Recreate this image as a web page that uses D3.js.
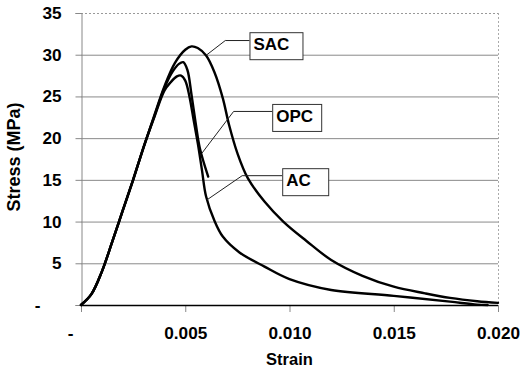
<!DOCTYPE html>
<html>
<head>
<meta charset="utf-8">
<script src="https://cdn.jsdelivr.net/npm/d3@7"></script>
<style>
  html, body { margin: 0; padding: 0; background: #fff; }
  svg { display: block; font-family: "Liberation Sans", Arial, sans-serif; font-weight: bold; }
</style>
</head>
<body>
<div id="chart"></div>
<script>
// stress-strain curves, strain (-) vs stress (MPa)
const sacStrain = [0, 0.0005, 0.001, 0.0015, 0.002, 0.0025, 0.003, 0.0035, 0.004, 0.0045, 0.005, 0.0053, 0.0056, 0.006, 0.0064, 0.0068, 0.0071, 0.0075, 0.008, 0.0088, 0.0097, 0.0108, 0.012, 0.0135, 0.015, 0.0165, 0.0177, 0.019, 0.020];
const sacStress = [0, 1.3, 4, 7.6, 11.3, 15, 18.9, 22.6, 26.2, 29.0, 30.6, 31.0, 30.8, 29.9, 27.9, 24.8, 21.6, 18.2, 15.2, 12.4, 10.0, 7.7, 5.4, 3.5, 2.2, 1.4, 0.85, 0.45, 0.25];

const opcStrain = [0, 0.0005, 0.001, 0.0015, 0.002, 0.0025, 0.003, 0.0035, 0.004, 0.0044, 0.0047, 0.0049, 0.0051, 0.0053, 0.0055, 0.0057, 0.0061];
const opcStress = [0, 1.3, 4, 7.6, 11.3, 15, 18.9, 22.5, 26.0, 28.0, 28.9, 29.1, 28.2, 25.2, 21.8, 18.8, 15.4];

const acStrain = [0, 0.0005, 0.001, 0.0015, 0.002, 0.0025, 0.003, 0.0035, 0.004, 0.0043, 0.0046, 0.0048, 0.005, 0.0052, 0.0054, 0.0056, 0.0058, 0.006, 0.0064, 0.0068, 0.0076, 0.0088, 0.010, 0.012, 0.015, 0.0177, 0.019, 0.0195];
const acStress = [0, 1.3, 4, 7.6, 11.3, 15, 18.9, 22.4, 25.7, 26.7, 27.4, 27.5, 26.9, 25.0, 22.2, 19.4, 16.2, 13.0, 10.1, 8.2, 6.3, 4.6, 3.1, 1.8, 1.1, 0.4, 0.05, 0];

const xTicks = [0, 0.005, 0.010, 0.015, 0.020];
const yTicks = [0, 5, 10, 15, 20, 25, 30, 35];

// callout labels: box corner, leader bend and leader end, in data units
const callouts = [
  { label: "SAC", bx: 0.00808, by: 32.7, w: 53, lx: 0.00692, ly: 31.7, ex: 0.00604, ey: 30.0 },
  { label: "OPC", bx: 0.00917, by: 24.1, w: 49, lx: 0.00732, ly: 23.2, ex: 0.0058, ey: 18.2 },
  { label: "AC",  bx: 0.00965, by: 16.4, w: 46, lx: 0.00773, ly: 15.5, ex: 0.00604, ey: 12.6 }
];

const width = 522;
const height = 372;
const plotLeft = 81, plotRight = 498, plotTop = 13, plotBottom = 305;
const fontSize = 17.2;

const svg = d3.select("#chart").append("svg")
  .attr("width", width)
  .attr("height", height);

const x = d3.scaleLinear().domain([0, 0.020]).range([plotLeft, plotRight]);
const y = d3.scaleLinear().domain([0, 35]).range([plotBottom, plotTop]);

// gridlines
svg.append("g")
  .selectAll("line")
  .data(yTicks.filter(d => d > 0))
  .join("line")
  .attr("x1", plotLeft)
  .attr("x2", plotRight)
  .attr("y1", d => y(d) + 0.5)
  .attr("y2", d => y(d) + 0.5)
  .attr("stroke", d => d === 35 ? "#999" : "#8a8a8a")
  .attr("stroke-width", 1)
  .attr("stroke-dasharray", d => d === 35 ? "2,2" : null);

// right border (dotted)
svg.append("line")
  .attr("x1", plotRight + 0.5).attr("x2", plotRight + 0.5)
  .attr("y1", plotTop).attr("y2", plotBottom)
  .attr("stroke", "#aaa")
  .attr("stroke-dasharray", "2,2");

// y axis
const yAxis = d3.axisLeft(y)
  .tickValues(yTicks)
  .tickSize(6)
  .tickPadding(14)
  .tickFormat(d => d === 0 ? "-" : d);

const yG = svg.append("g")
  .attr("transform", `translate(${plotLeft + 0.5},0)`)
  .call(yAxis);
yG.select(".domain").attr("stroke", "#888");
yG.selectAll(".tick line").attr("stroke", "#888");
yG.selectAll(".tick text")
  .attr("fill", "#000")
  .style("font-size", fontSize + "px")
  .style("font-weight", "bold")
  .style("font-family", '"Liberation Sans", Arial, sans-serif')
  .attr("dx", d => d === 0 ? -21 : 0);

// x axis
const xAxis = d3.axisBottom(x)
  .tickValues(xTicks)
  .tickSize(7)
  .tickPadding(15)
  .tickFormat(d => d === 0 ? "-" : d3.format(".3f")(d));

const xG = svg.append("g")
  .attr("transform", `translate(0,${plotBottom})`)
  .call(xAxis);
xG.select(".domain").remove();
xG.selectAll(".tick line").attr("stroke", "#888");
xG.selectAll(".tick text")
  .attr("fill", "#000")
  .style("font-size", fontSize + "px")
  .style("font-weight", "bold")
  .style("font-family", '"Liberation Sans", Arial, sans-serif')
  .attr("dx", d => d === 0 ? -11 : 0);

// x baseline
svg.append("line")
  .attr("x1", plotLeft).attr("x2", plotRight)
  .attr("y1", plotBottom + 0.5).attr("y2", plotBottom + 0.5)
  .attr("stroke", "#000")
  .attr("stroke-width", 1.5);

// axis titles
svg.append("text")
  .attr("x", (plotLeft + plotRight) / 2)
  .attr("y", 365)
  .attr("text-anchor", "middle")
  .style("font-size", "16.5px")
  .text("Strain");

svg.append("text")
  .attr("transform", "translate(20,157) rotate(-90)")
  .attr("text-anchor", "middle")
  .style("font-size", "18px")
  .text("Stress (MPa)");

// curves
const line = d3.line()
  .x(d => x(d[0]))
  .y(d => y(d[1]))
  .curve(d3.curveCatmullRom.alpha(0.5));

const series = [
  { name: "SAC", strain: sacStrain, stress: sacStress },
  { name: "OPC", strain: opcStrain, stress: opcStress },
  { name: "AC", strain: acStrain, stress: acStress }
];

svg.append("g")
  .selectAll("path")
  .data(series)
  .join("path")
  .attr("d", s => line(d3.zip(s.strain, s.stress)))
  .attr("fill", "none")
  .attr("stroke", "#000")
  .attr("stroke-width", 2.4)
  .attr("stroke-linejoin", "round")
  .attr("stroke-linecap", "round");

// callouts
const callG = svg.append("g")
  .selectAll("g")
  .data(callouts)
  .join("g");

callG.append("polyline")
  .attr("points", c => [
    [x(c.bx), y(c.ly)],
    [x(c.lx), y(c.ly)],
    [x(c.ex), y(c.ey)]
  ].join(" "))
  .attr("fill", "none")
  .attr("stroke", "#222")
  .attr("stroke-width", 1);

callG.append("rect")
  .attr("x", c => x(c.bx) + 0.5)
  .attr("y", c => y(c.by) + 0.5)
  .attr("width", c => c.w)
  .attr("height", 27)
  .attr("fill", "#fff")
  .attr("stroke", "#333")
  .attr("stroke-width", 1);

callG.append("text")
  .attr("x", c => x(c.bx) + 4)
  .attr("y", c => y(c.by) + 18)
  .style("font-size", "17px")
  .text(c => c.label);
</script>
</body>
</html>
